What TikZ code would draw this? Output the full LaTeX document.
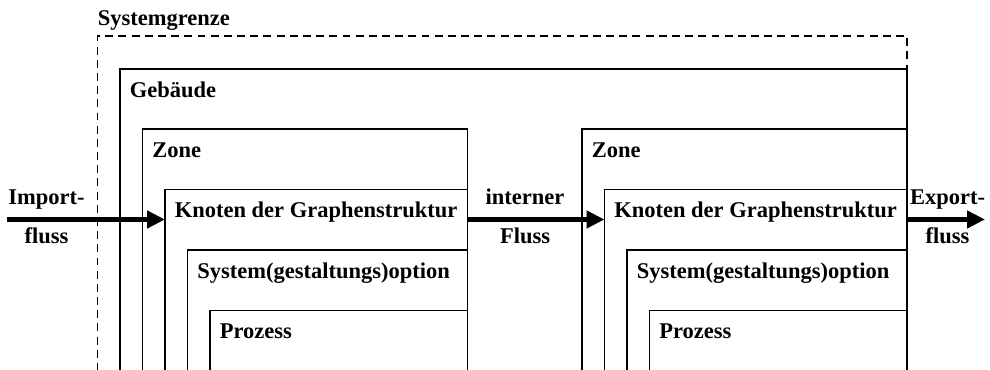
\documentclass[tikz,border=0pt]{standalone}
\usepackage{fontspec}
\setmainfont{Liberation Serif}
\usetikzlibrary{arrows.meta}
\usetikzlibrary{positioning}

\begin{document}
\begin{tikzpicture}[
  every node/.style={font=\bfseries\fontsize{12.8}{15}\selectfont},
  box/.style={draw, line width=0.9pt, anchor=north west, inner sep=0pt, outer sep=0pt},
  boxlabel/.style={anchor=base west, inner sep=0pt, xshift=0.19cm, yshift=-0.57cm},
  flowtop/.style={anchor=base, inner sep=0pt, yshift=0.3cm},
  flowbottom/.style={anchor=base, inner sep=0pt, yshift=-0.49cm},
  flow/.style={line width=2.8pt, -{Triangle[length=0.36cm,width=0.34cm]}}]
  \useasboundingbox (0,0) rectangle (19.8,7.4);
  \clip (0,0) rectangle (19.8,7.4);

  % Systemgrenze und Gebaeude
  \node[box, dash pattern=on 4.5pt off 3pt, minimum width=16.19cm, minimum height=8cm] (grenze) at (1.95,6.68) {};
  \node[anchor=base west, inner sep=0pt, yshift=0.2cm] (lab-grenze) at (grenze.north west) {Systemgrenze};
  \node[box, minimum width=15.74cm, minimum height=8cm] (geb) at (2.40,6.02) {};
  \node[boxlabel] (lab-geb) at (geb.north west) {Gebäude};

  % zwei Zonen, jeweils Knoten, Option, Prozess
  \foreach \s/\x in {L/2.85,R/11.64}{%
    \foreach \i/\name/\txt in {0/zone/Zone,1/knot/Knoten der Graphenstruktur,2/sys/System(gestaltungs)option,3/proz/Prozess}{%
      \node[box, minimum width=6.5cm-\i*0.45cm, minimum height=8cm] (\name\s) at (\x+\i*0.45,4.82-\i*1.21) {};
      \node[boxlabel] (lab-\name\s) at (\name\s.north west) {\txt};
    }
  }

  % Fluesse
  \coordinate (importstart) at (0.14,3.01);
  \coordinate (exportend)   at (19.70,3.01);
  \draw[flow] (importstart) -- node[flowtop, pos=.25] (imp1) {Import-}
    node[flowbottom, pos=.25] (imp2) {fluss} (importstart -| knotL.west);
  \draw[flow] (knotL.east |- importstart) -- node[flowtop, pos=.42] (int1) {interner}
    node[flowbottom, pos=.42] (int2) {Fluss} (knotR.west |- importstart);
  \draw[flow] (knotR.east |- importstart) -- node[flowtop, pos=.52] (exp1) {Export-}
    node[flowbottom, pos=.52] (exp2) {fluss} (exportend);
\end{tikzpicture}
\end{document}
